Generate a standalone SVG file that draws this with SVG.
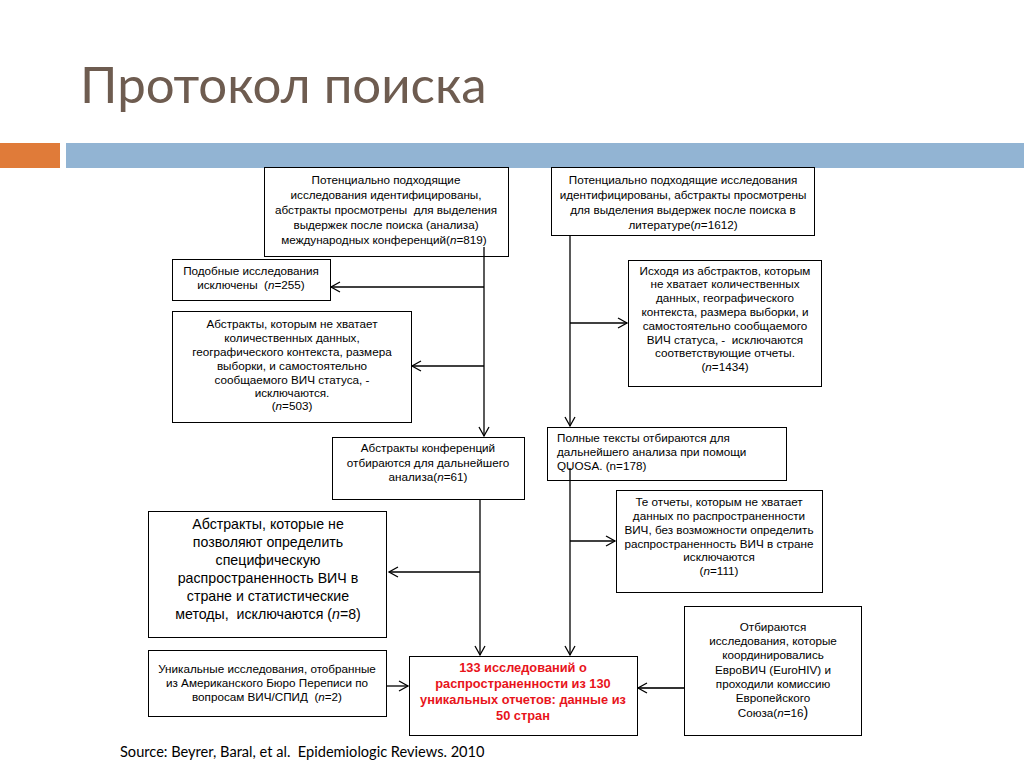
<svg xmlns="http://www.w3.org/2000/svg" width="1024" height="768" viewBox="0 0 1024 768" xml:space="preserve">
<defs>
<style>
.box{fill:#fff;stroke:#000;stroke-width:1}
.t{font-family:"Liberation Sans",Arial,sans-serif;font-size:11.7px;fill:#000;text-anchor:middle;white-space:pre}
.tl{text-anchor:start}
.big{font-size:14.2px}
.red{fill:#e8141b;font-weight:bold;font-size:12.8px}
.ln{stroke:#000;stroke-width:1.3;fill:none}
.title{font-family:Lato,"Open Sans",sans-serif;font-size:51px;fill:#6e5c50}
.src{font-family:Lato,"Open Sans",sans-serif;font-size:14.6px;fill:#000;white-space:pre}
</style>
<marker id="ah" markerWidth="12" markerHeight="12" refX="10" refY="6" orient="auto" markerUnits="userSpaceOnUse">
<path d="M1,1 L10,6 L1,11" fill="none" stroke="#000" stroke-width="1.3"/>
</marker>
</defs>
<rect width="1024" height="768" fill="#fff"/>
<text class="title" x="80" y="103">Протокол поиска</text>
<rect x="0" y="143" width="60" height="25" fill="#e07b39"/>
<rect x="66" y="143" width="958" height="25" fill="#92b4d3"/>

<g id="connectors">
<path class="ln" d="M484,247 V436" marker-end="url(#ah)"/>
<path class="ln" d="M484,287 H331" marker-end="url(#ah)"/>
<path class="ln" d="M484,366 H412" marker-end="url(#ah)"/>
<path class="ln" d="M570,235 V426" marker-end="url(#ah)"/>
<path class="ln" d="M570,323 H627" marker-end="url(#ah)"/>
<path class="ln" d="M480,499 V655" marker-end="url(#ah)"/>
<path class="ln" d="M480,572 H389" marker-end="url(#ah)"/>
<path class="ln" d="M570,468 V655" marker-end="url(#ah)"/>
<path class="ln" d="M570,541 H615" marker-end="url(#ah)"/>
<path class="ln" d="M386,686 H408" marker-end="url(#ah)"/>
<path class="ln" d="M684,688 H638" marker-end="url(#ah)" style="stroke:#333;stroke-width:2"/>
</g>

<g id="boxA">
<rect class="box" x="264.5" y="167.5" width="244" height="89"/>
<text class="t" x="386" y="184">Потенциально подходящие</text>
<text class="t" x="386" y="199">исследования идентифицированы,</text>
<text class="t" x="386" y="214">абстракты просмотрены  для выделения</text>
<text class="t" x="386" y="229">выдержек после поиска (анализа)</text>
<text class="t" x="384" y="244">международных конференций(<tspan font-style="italic">n</tspan>=819)</text>
</g>
<path class="ln" d="M484,247 V257"/>

<g id="boxB">
<rect class="box" x="551.5" y="167.5" width="263" height="68"/>
<text class="t" x="683" y="184">Потенциально подходящие исследования</text>
<text class="t" x="683" y="199">идентифицированы, абстракты просмотрены</text>
<text class="t" x="683" y="214">для выделения выдержек после поиска в</text>
<text class="t" x="683" y="229">литературе(<tspan font-style="italic">n</tspan>=1612)</text>
</g>

<g id="boxC">
<rect class="box" x="172.5" y="259.5" width="158" height="41"/>
<text class="t" x="251" y="275">Подобные исследования</text>
<text class="t" x="251" y="289">исключены  (<tspan font-style="italic">n</tspan>=255)</text>
</g>

<g id="boxD">
<rect class="box" x="172.5" y="311.5" width="239" height="111"/>
<text class="t" x="292" y="328">Абстракты, которым не хватает</text>
<text class="t" x="292" y="342">количественных данных,</text>
<text class="t" x="292" y="356">географического контекста, размера</text>
<text class="t" x="292" y="370">выборки, и самостоятельно</text>
<text class="t" x="292" y="384">сообщаемого ВИЧ статуса, -</text>
<text class="t" x="292" y="397">исключаются.</text>
<text class="t" x="292" y="410">(<tspan font-style="italic">n</tspan>=503)</text>
</g>

<g id="boxE">
<rect class="box" x="628.5" y="260.5" width="193" height="126"/>
<text class="t" x="725" y="275">Исходя из абстрактов, которым</text>
<text class="t" x="725" y="288">не хватает количественных</text>
<text class="t" x="725" y="302">данных, географического</text>
<text class="t" x="725" y="316">контекста, размера выборки, и</text>
<text class="t" x="725" y="330">самостоятельно сообщаемого</text>
<text class="t" x="725" y="344">ВИЧ статуса, -  исключаются</text>
<text class="t" x="725" y="357">соответствующие отчеты.</text>
<text class="t" x="725" y="371">(<tspan font-style="italic">n</tspan>=1434)</text>
</g>

<g id="boxF">
<rect class="box" x="332.5" y="437.5" width="192" height="62"/>
<text class="t" x="428" y="452">Абстракты конференций</text>
<text class="t" x="428" y="467">отбираются для дальнейшего</text>
<text class="t" x="428" y="481">анализа(<tspan font-style="italic">n</tspan>=61)</text>
</g>

<g id="boxG">
<rect class="box" x="547.5" y="427.5" width="239" height="53"/>
<text class="t tl" x="557" y="442">Полные тексты отбираются для</text>
<text class="t tl" x="557" y="456">дальнейшего анализа при помощи</text>
<text class="t tl" x="557" y="470">QUOSA. (n=178)</text>
</g>
<path class="ln" d="M570,468 V481"/>

<g id="boxH">
<rect class="box" x="616.5" y="490.5" width="206" height="102"/>
<text class="t" x="719" y="506">Те отчеты, которым не хватает</text>
<text class="t" x="719" y="520">данных по распространенности</text>
<text class="t" x="719" y="534">ВИЧ, без возможности определить</text>
<text class="t" x="719" y="548">распространенность ВИЧ в стране</text>
<text class="t" x="719" y="561">исключаются</text>
<text class="t" x="719" y="575">(<tspan font-style="italic">n</tspan>=111)</text>
</g>

<g id="boxI">
<rect class="box" x="148.5" y="511.5" width="238" height="126"/>
<text class="t big" x="268" y="529">Абстракты, которые не</text>
<text class="t big" x="268" y="547">позволяют определить</text>
<text class="t big" x="268" y="565">специфическую</text>
<text class="t big" x="268" y="583">распространенность ВИЧ в</text>
<text class="t big" x="268" y="601">стране и статистические</text>
<text class="t big" x="268" y="619">методы,  исключаются (<tspan font-style="italic">n</tspan>=8)</text>
</g>

<g id="boxJ">
<rect class="box" x="148.5" y="650.5" width="238" height="66"/>
<text class="t" x="267" y="673">Уникальные исследования, отобранные</text>
<text class="t" x="267" y="687">из Американского Бюро Переписи по</text>
<text class="t" x="267" y="701">вопросам ВИЧ/СПИД  (<tspan font-style="italic">n</tspan>=2)</text>
</g>

<g id="boxK">
<rect class="box" x="409.5" y="656.5" width="228" height="79"/>
<text class="t red" x="523" y="672">133 исследований о</text>
<text class="t red" x="523" y="688">распространенности из 130</text>
<text class="t red" x="523" y="704">уникальных отчетов: данные из</text>
<text class="t red" x="523" y="720">50 стран</text>
</g>

<g id="boxL">
<rect class="box" x="684.5" y="606.5" width="177" height="129"/>
<text class="t" x="773" y="631">Отбираются</text>
<text class="t" x="773" y="645">исследования, которые</text>
<text class="t" x="773" y="659">координировались</text>
<text class="t" x="773" y="674">ЕвроВИЧ (EuroHIV) и</text>
<text class="t" x="773" y="688">проходили комиссию</text>
<text class="t" x="773" y="702">Европейского</text>
<text class="t" x="773" y="717">Союза(<tspan font-style="italic">n</tspan>=16<tspan font-size="14">)</tspan></text>
</g>

<text class="src" x="120" y="757">Source: Beyrer, Baral, et al.  Epidemiologic Reviews. 2010</text>
</svg>
